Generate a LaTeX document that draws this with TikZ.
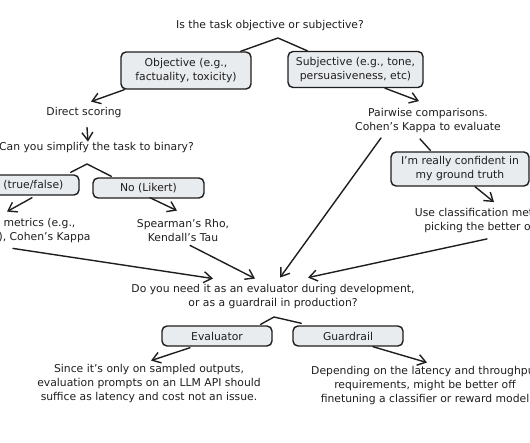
\documentclass[tikz,border=0pt]{standalone}
\usepackage{fontspec}
\setmainfont{DejaVu Sans}
\usetikzlibrary{arrows.meta,calc}
\definecolor{ink}{HTML}{1E1E1E}
\definecolor{boxfill}{HTML}{E9ECEF}
\begin{document}
\begin{tikzpicture}[x=1pt,y=-1pt,
  txt/.style={font=\fontsize{10.8}{14}\selectfont, text=ink, align=center, inner sep=0pt},
  box/.style={draw=ink, fill=boxfill, line width=1.4pt, rounded corners=5pt, inner sep=0pt,
              font=\fontsize{10.8}{14}\selectfont, text=ink, align=center},
  arr/.style={draw=ink, line width=1.4pt, line cap=round, -{Straight Barb[length=8pt,width=11pt]}},
  ln/.style={draw=ink, line width=1.4pt, line cap=round, line join=round}]
\useasboundingbox (0,0) rectangle (530,442);
\clip (0,0) rectangle (530,442);

% nodes
\node[txt] (q1) at (270,26) {Is the task objective or subjective?};
\node[box, minimum width=130pt, minimum height=37pt] (obj) at (186,70.5) {Objective (e.g.,\\factuality, toxicity)};
\node[box, minimum width=135pt, minimum height=36pt] (subj) at (355.5,69.5) {Subjective (e.g., tone,\\persuasiveness, etc)};
\node[txt] (direct) at (84,113) {Direct scoring};
\node[txt, anchor=east] (binq) at (194,148) {Can you simplify the task to binary?};
\node[box, minimum width=112pt, minimum height=20pt] (yes) at (23,185) {Yes (true/false)};
\node[box, minimum width=111pt, minimum height=20pt] (no) at (148.5,188) {No (Likert)};
\node[txt] (binmet) at (2,231) {Classification metrics (e.g.,\\recall, precision), Cohen's Kappa};
\node[txt] (spear) at (183,230) {Spearman's Rho,\\Kendall's Tau};
\node[txt] (pair) at (428,120.5) {Pairwise comparisons.\\Cohen's Kappa to evaluate};
\node[box, minimum width=138pt, minimum height=34pt] (conf) at (460,169) {I'm really confident in\\my ground truth};
\node[txt] (usecls) at (492,220.5) {Use classification metrics on\\picking the better output};
\node[txt] (evq) at (273,297) {Do you need it as an evaluator during development,\\or as a guardrail in production?};
\node[box, minimum width=110pt, minimum height=20pt] (eval) at (217,336) {Evaluator};
\node[box, minimum width=110pt, minimum height=20pt] (guard) at (348,336) {Guardrail};
\node[txt] (evtext) at (149,384) {Since it's only on sampled outputs,\\evaluation prompts on an LLM API should\\suffice as latency and cost not an issue.};
\node[txt] (gdtext) at (425,386) {Depending on the latency and throughput\\requirements, might be better off\\finetuning a classifier or reward model};

% roofs
\coordinate (r1) at (278,38);
\coordinate (r2) at (87,164);
\coordinate (r3) at (274,317);
\draw[ln] ($(obj.north east)+(-11,0)$) -- (r1) -- ($(subj.north west)+(20,0)$);
\draw[ln] ($(yes.north east)+(-9,-2)$) -- (r2) -- ($(no.north west)+(19,-1)$);
\draw[ln] ($(eval.north east)+(-12,-1)$) -- (r3) -- ($(guard.north west)+(9,-2)$);
\draw[ln] ($(pair.south)+(-8,6)$) -- ($(conf.north west)+(40,-1)$);

% arrows
\draw[arr] ($(obj.south west)+(4,0)$) -- ($(direct.north)+(7,-6)$);
\draw[arr] ($(direct.south)+(3,9)$) -- ($(binq.north east)+(-106,-1)$);
\draw[arr] ($(yes.south)+(9,2)$) -- ($(binmet.north)+(5,-7)$);
\draw[arr] ($(no.south)+(1.5,-1)$) -- ($(spear.north)+(-6,-8)$);
\draw[arr] ($(binmet.south)+(11,5)$) -- ($(evq.north)+(-60,-6)$);
\draw[arr] ($(spear.south)+(7,4)$) -- ($(evq.north)+(-18,-6)$);
\draw[arr] ($(subj.south)+(29.5,0)$) -- ($(pair.north)+(-9,-7)$);
\draw[arr] ($(pair.south)+(-47,5)$) -- ($(evq.north)+(7,-7)$);
\draw[arr] ($(conf.south)+(15,0)$) -- ($(usecls.north)+(2,-6)$);
\draw[arr] ($(usecls.south)+(-5,6)$) -- ($(evq.north)+(35,-7)$);
\draw[arr] ($(eval.south)+(-27,1)$) -- ($(evtext.north)+(2,-4)$);
\draw[arr] ($(guard.south)+(25,0)$) -- ($(gdtext.north)+(2,-4)$);
\end{tikzpicture}
\end{document}
